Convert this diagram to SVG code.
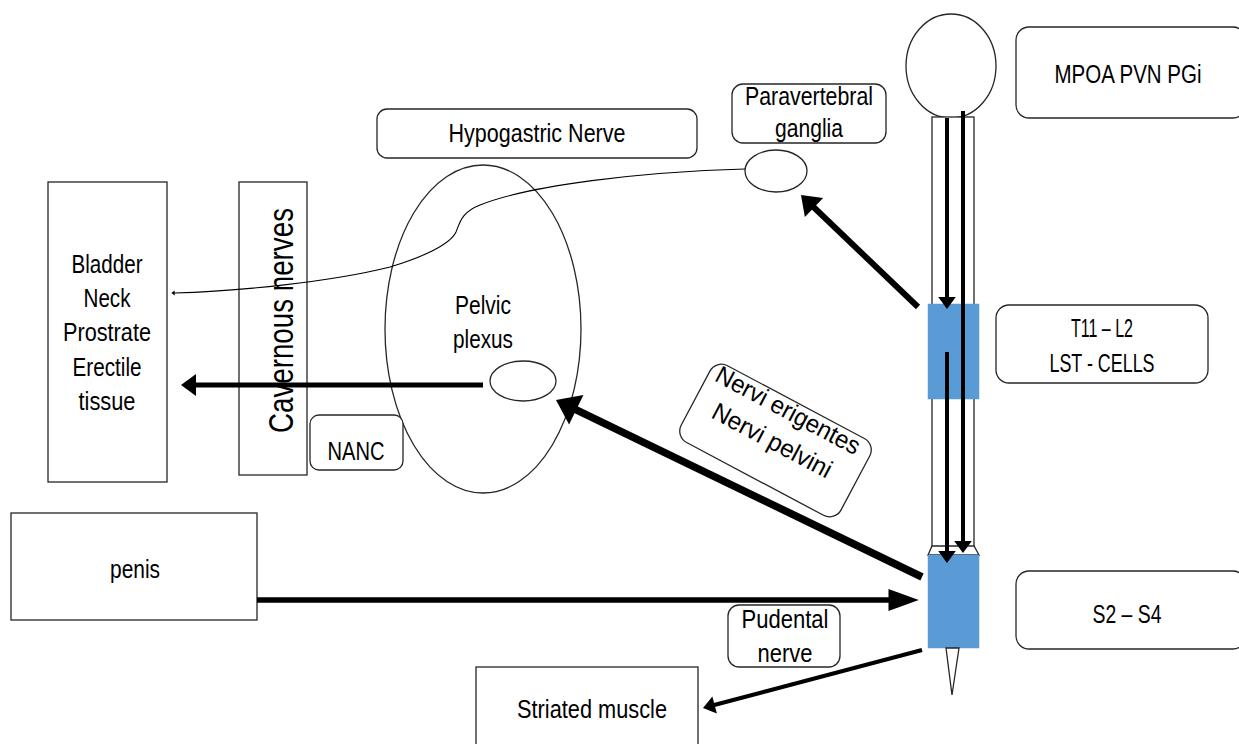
<svg xmlns="http://www.w3.org/2000/svg" width="1239" height="744" viewBox="0 0 1239 744">
<style>
.n{fill:#fff;stroke:#262626;stroke-width:1.3}
.t{font-family:"Liberation Sans",Arial,sans-serif;font-size:25px;fill:#000;text-anchor:middle}
.c{fill:none;stroke:#000}
.blue{fill:#5B9BD5;stroke:#5B9BD5;stroke-width:0.5}
</style>
<defs>
<marker id="ah" markerUnits="strokeWidth" markerWidth="3.2" markerHeight="4.6" refX="0.6" refY="2.2" orient="auto" overflow="visible">
<path d="M0,0 L3,2.2 L0,4.4 Z" fill="#000"/>
</marker>
<marker id="ahLong" markerUnits="strokeWidth" markerWidth="6" markerHeight="4.2" refX="1" refY="2" orient="auto" overflow="visible">
<path d="M0,0 L5.5,2 L0,4 Z" fill="#000"/>
</marker>
</defs>
<rect width="1239" height="744" fill="#fff"/>

<g id="spinal-cord">
<ellipse cx="951" cy="66" rx="45" ry="52" class="n"/>
<rect x="932" y="117" width="42" height="430" class="n"/>
<path d="M932,546 L974,546 L979,555 L928,555 Z" class="n"/>
<rect x="928" y="304" width="51" height="95" class="blue"/>
<rect x="928" y="555" width="51" height="93" class="blue"/>
<path d="M946,648 L959,648 L952,695 Z" class="n" stroke-width="1"/>
</g>

<g id="mpoa">
<rect x="1016" y="27" width="230" height="91" rx="13" class="n"/>
<text x="1128" y="83" class="t" textLength="147" lengthAdjust="spacingAndGlyphs">MPOA PVN PGi</text>
</g>

<g id="t11-l2">
<rect x="996" y="305" width="212" height="78" rx="13" class="n"/>
<text x="1102" y="337" class="t" textLength="62" lengthAdjust="spacingAndGlyphs">T11 – L2</text>
<text x="1102" y="372" class="t" textLength="105" lengthAdjust="spacingAndGlyphs">LST - CELLS</text>
</g>

<g id="s2-s4">
<rect x="1016" y="571" width="230" height="78" rx="13" class="n"/>
<text x="1127" y="623" class="t" textLength="69" lengthAdjust="spacingAndGlyphs">S2 – S4</text>
</g>

<g id="paravertebral-ganglia">
<rect x="732" y="84" width="154" height="59" rx="11" class="n"/>
<text x="809" y="105" class="t" textLength="128" lengthAdjust="spacingAndGlyphs">Paravertebral</text>
<text x="809" y="137" class="t" textLength="68" lengthAdjust="spacingAndGlyphs">ganglia</text>
</g>

<g id="ganglion">
<ellipse cx="776" cy="171" rx="31" ry="21" class="n"/>
</g>

<g id="hypogastric-nerve">
<rect x="377" y="109" width="320" height="49" rx="10" class="n"/>
<text x="537" y="142" class="t" textLength="177" lengthAdjust="spacingAndGlyphs">Hypogastric Nerve</text>
</g>

<g id="pelvic-plexus">
<ellipse cx="483" cy="329" rx="98" ry="164" class="n"/>
<text x="483" y="314" class="t" textLength="56" lengthAdjust="spacingAndGlyphs">Pelvic</text>
<text x="483" y="348" class="t" textLength="60" lengthAdjust="spacingAndGlyphs">plexus</text>
<ellipse cx="523" cy="381" rx="33" ry="20" class="n"/>
</g>

<g id="bladder">
<rect x="48" y="182" width="119" height="300" class="n"/>
<text x="107" y="273" class="t" textLength="71" lengthAdjust="spacingAndGlyphs">Bladder</text>
<text x="107" y="307" class="t" textLength="47" lengthAdjust="spacingAndGlyphs">Neck</text>
<text x="107" y="341" class="t" textLength="88" lengthAdjust="spacingAndGlyphs">Prostrate</text>
<text x="107" y="376" class="t" textLength="69" lengthAdjust="spacingAndGlyphs">Erectile</text>
<text x="107" y="410" class="t" textLength="57" lengthAdjust="spacingAndGlyphs">tissue</text>
</g>

<g id="cavernous-nerves">
<rect x="239" y="182" width="68" height="293" class="n"/>
<text transform="translate(293,320.5) rotate(-90)" x="0" y="0" class="t" style="font-size:35px" textLength="225" lengthAdjust="spacingAndGlyphs">Cavernous nerves</text>
</g>

<g id="nanc">
<rect x="310" y="415" width="93" height="55" rx="9" class="n"/>
<text x="356" y="460" class="t" textLength="57" lengthAdjust="spacingAndGlyphs">NANC</text>
</g>

<g id="nervi-erigentes">
<g transform="translate(775.5,440.5) rotate(28)">
<rect x="-90.5" y="-43.5" width="181" height="87" rx="13" class="n"/>
<text x="-3" y="-24" class="t" textLength="160" lengthAdjust="spacingAndGlyphs">Nervi erigentes</text>
<text x="-3" y="10" class="t" textLength="132" lengthAdjust="spacingAndGlyphs">Nervi pelvini</text>
</g>
</g>

<g id="penis">
<rect x="11" y="513" width="246" height="107" class="n"/>
<text x="135" y="578" class="t" textLength="50" lengthAdjust="spacingAndGlyphs">penis</text>
</g>

<g id="pudental-nerve">
<rect x="728" y="605" width="112" height="62" rx="11" class="n"/>
<text x="785" y="628" class="t" textLength="87" lengthAdjust="spacingAndGlyphs">Pudental</text>
<text x="785" y="662" class="t" textLength="55" lengthAdjust="spacingAndGlyphs">nerve</text>
</g>

<g id="striated-muscle">
<rect x="476" y="667" width="222" height="90" class="n"/>
<text x="592" y="718" class="t" textLength="150" lengthAdjust="spacingAndGlyphs">Striated muscle</text>
</g>

<g id="connectors">
<path d="M745,169 C640,172 530,185 480,205 C462,212 460,222 456,232 C450,245 420,258 390,267 C330,282 240,291 174,293" class="c" stroke-width="1.1" marker-end="url(#ah)"/>
<line x1="918" y1="307" x2="811.4" y2="205" class="c" stroke-width="6" marker-end="url(#ah)"/>
<line x1="922" y1="577" x2="572.2" y2="407.8" class="c" stroke-width="7.5" marker-end="url(#ah)"/>
<line x1="483" y1="385" x2="193" y2="385" class="c" stroke-width="5" marker-end="url(#ah)"/>
<line x1="257" y1="600" x2="894" y2="600" class="c" stroke-width="5.5" marker-end="url(#ahLong)"/>
<line x1="922" y1="650" x2="712.3" y2="705.5" class="c" stroke-width="4" marker-end="url(#ah)"/>
<line x1="947" y1="118" x2="947" y2="299.4" class="c" stroke-width="4" marker-end="url(#ah)"/>
<line x1="947" y1="352" x2="947" y2="553.4" class="c" stroke-width="4" marker-end="url(#ah)"/>
<line x1="963" y1="111" x2="963" y2="543.4" class="c" stroke-width="4" marker-end="url(#ah)"/>
</g>
</svg>
